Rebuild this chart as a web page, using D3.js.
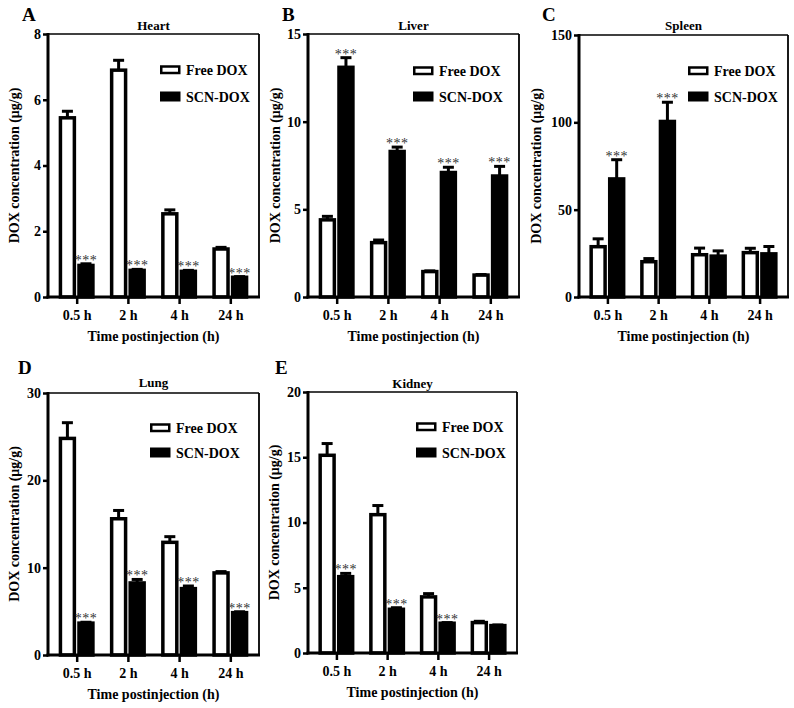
<!DOCTYPE html>
<html>
<head>
<meta charset="utf-8">
<script src="https://cdn.jsdelivr.net/npm/d3@7"></script>
<style>
  html, body { margin: 0; padding: 0; background: #fff; }
  svg { display: block; }
</style>
</head>
<body>
<svg id="chart" width="794" height="708" font-family="Liberation Serif" font-weight="bold"></svg>
<script>
// ---------------- data ----------------
const categories = ["0.5 h", "2 h", "4 h", "24 h"];
const seriesNames = ["Free DOX", "SCN-DOX"];

const heartFree = [5.45, 6.9, 2.53, 1.46];
const heartFreeErr = [0.2, 0.3, 0.12, 0.05];
const heartSCN = [0.96, 0.81, 0.78, 0.6];
const heartSCNErr = [0.05, 0.03, 0.03, 0.02];
const heartSig = [true, true, true, true];
const heartTicks = [0, 2, 4, 6, 8];

const liverFree = [4.4, 3.1, 1.45, 1.25];
const liverFreeErr = [0.2, 0.15, 0.04, 0.03];
const liverSCN = [13.1, 8.3, 7.1, 6.9];
const liverSCNErr = [0.55, 0.25, 0.3, 0.55];
const liverSig = [true, true, true, true];
const liverTicks = [0, 5, 10, 15];

const spleenFree = [28.8, 20.2, 24.2, 25.4];
const spleenFreeErr = [4.5, 1.8, 3.8, 2.5];
const spleenSCN = [67.6, 100.5, 23.4, 24.7];
const spleenSCNErr = [11, 11, 3, 4.2];
const spleenSig = [true, true, false, false];
const spleenTicks = [0, 50, 100, 150];

const lungFree = [24.8, 15.6, 12.9, 9.4];
const lungFreeErr = [1.8, 0.95, 0.65, 0.15];
const lungSCN = [3.65, 8.25, 7.6, 4.85];
const lungSCNErr = [0.1, 0.4, 0.3, 0.1];
const lungSig = [true, true, true, true];
const lungTicks = [0, 10, 20, 30];

const kidneyFree = [15.15, 10.6, 4.3, 2.33];
const kidneyFreeErr = [0.9, 0.7, 0.25, 0.1];
const kidneySCN = [5.85, 3.35, 2.28, 2.1];
const kidneySCNErr = [0.25, 0.12, 0.05, 0.05];
const kidneySig = [true, true, true, false];
const kidneyTicks = [0, 5, 10, 15, 20];

// ---------------- layout (positions/styles) ----------------
const panels = [
  { letter: "A", title: "Heart",  free: heartFree,  freeErr: heartFreeErr,  scn: heartSCN,  scnErr: heartSCNErr,  sig: heartSig,  ticks: heartTicks,
    left: 48,  right: 259, top: 34,  bottom: 297, letterX: 22,  letterY: 21,  titleY: 30,  ylabX: 14,  legX: 160, legY1: 70,  legY2: 97 },
  { letter: "B", title: "Liver",  free: liverFree,  freeErr: liverFreeErr,  scn: liverSCN,  scnErr: liverSCNErr,  sig: liverSig,  ticks: liverTicks,
    left: 308, right: 519, top: 34,  bottom: 297, letterX: 282, letterY: 21,  titleY: 30,  ylabX: 275, legX: 413, legY1: 71,  legY2: 97 },
  { letter: "C", title: "Spleen", free: spleenFree, freeErr: spleenFreeErr, scn: spleenSCN, scnErr: spleenSCNErr, sig: spleenSig, ticks: spleenTicks,
    left: 579, right: 788, top: 35,  bottom: 297, letterX: 542, letterY: 21,  titleY: 30,  ylabX: 536, legX: 688, legY1: 71,  legY2: 97 },
  { letter: "D", title: "Lung",   free: lungFree,   freeErr: lungFreeErr,   scn: lungSCN,   scnErr: lungSCNErr,   sig: lungSig,   ticks: lungTicks,
    left: 48,  right: 259, top: 393, bottom: 655, letterX: 18,  letterY: 374, titleY: 387, ylabX: 14,  legX: 150, legY1: 428, legY2: 453 },
  { letter: "E", title: "Kidney", free: kidneyFree, freeErr: kidneyFreeErr, scn: kidneySCN, scnErr: kidneySCNErr, sig: kidneySig, ticks: kidneyTicks,
    left: 308, right: 517, top: 392, bottom: 653, letterX: 275, letterY: 374, titleY: 388, ylabX: 274, legX: 416, legY1: 427, legY2: 453 }
];

const FONT = "'Liberation Serif', 'Times New Roman', Times, serif";
const svg = d3.select("#chart");
const BAR_STROKE = 3.5;

function txt(sel, size) {
  return sel.style("font-family", FONT).style("font-weight", "bold").style("font-size", size + "px").style("fill", "#000");
}

panels.forEach(p => {
  const g = svg.append("g");
  const x = d3.scalePoint().domain(categories).range([p.left, p.right]).padding(0.56);
  const inner = d3.scaleBand().domain(seriesNames).range([-18, 18]).paddingInner(0.06);
  const y = d3.scaleLinear().domain([0, d3.max(p.ticks)]).range([p.bottom, p.top]);

  const rows = [];
  categories.forEach((c, i) => {
    rows.push({ cat: c, s: seriesNames[0], v: p.free[i], e: p.freeErr[i], sig: false });
    rows.push({ cat: c, s: seriesNames[1], v: p.scn[i], e: p.scnErr[i], sig: p.sig[i] });
  });

  // frame (top + right)
  g.append("line").attr("x1", p.left).attr("x2", p.right).attr("y1", p.top).attr("y2", p.top)
    .attr("stroke", "#000").attr("stroke-width", 1.6);
  g.append("line").attr("x1", p.right).attr("x2", p.right).attr("y1", p.top).attr("y2", p.bottom)
    .attr("stroke", "#000").attr("stroke-width", 1.8);

  // error bars (upper only)
  g.selectAll(".err").data(rows).enter().append("g").each(function(d) {
    const cx = x(d.cat) + inner(d.s) + inner.bandwidth() / 2;
    const sel = d3.select(this);
    sel.append("line").attr("x1", cx).attr("x2", cx).attr("y1", y(d.v)).attr("y2", y(d.v + d.e))
      .attr("stroke", "#000").attr("stroke-width", 3);
    sel.append("line").attr("x1", cx - 5.5).attr("x2", cx + 5.5).attr("y1", y(d.v + d.e)).attr("y2", y(d.v + d.e))
      .attr("stroke", "#000").attr("stroke-width", 3);
  });

  // bars
  g.selectAll(".bar").data(rows).enter().append("rect")
    .attr("x", d => x(d.cat) + inner(d.s) + BAR_STROKE / 2)
    .attr("width", inner.bandwidth() - BAR_STROKE)
    .attr("y", d => y(d.v))
    .attr("height", d => y(0) - y(d.v))
    .attr("fill", d => d.s === seriesNames[0] ? "#fff" : "#000")
    .attr("stroke", "#000")
    .attr("stroke-width", BAR_STROKE);

  // significance stars
  g.selectAll(".sig").data(rows.filter(d => d.sig)).enter().append("text")
    .attr("x", d => x(d.cat) + inner(d.s) + inner.bandwidth() / 2)
    .attr("y", d => y(d.v + d.e) + 1)
    .attr("text-anchor", "middle")
    .style("font-family", FONT)
    .style("font-size", "14px")
    .style("font-weight", "normal")
    .style("fill", "#333")
    .style("letter-spacing", "0.5px")
    .text("***");

  // y axis
  const ya = g.append("g").attr("transform", `translate(${p.left},0)`)
    .call(d3.axisLeft(y).tickValues(p.ticks).tickSize(5).tickPadding(2).tickFormat(d3.format("d")));
  ya.select(".domain").attr("stroke-width", 3).attr("d", `M0,${p.top - 1}V${p.bottom + 1.5}`);
  ya.selectAll(".tick line").attr("stroke-width", 2.5);
  txt(ya.selectAll(".tick text"), 14);

  // x axis
  const xa = g.append("g").attr("transform", `translate(0,${p.bottom})`)
    .call(d3.axisBottom(x).tickSize(7).tickPadding(6));
  xa.select(".domain").attr("stroke-width", 3).attr("d", `M${p.left - 1.5},0H${p.right + 1}`);
  xa.selectAll(".tick line").attr("stroke-width", 2.5);
  txt(xa.selectAll(".tick text"), 14);

  // x axis title
  txt(g.append("text").attr("x", (p.left + p.right) / 2).attr("y", p.bottom + 44)
    .attr("text-anchor", "middle"), 14).text("Time postinjection (h)");

  // y axis title
  txt(g.append("text").attr("transform", `translate(${p.ylabX},${(p.top + p.bottom) / 2}) rotate(-90)`)
    .attr("text-anchor", "middle").attr("dy", "0.35em"), 14)
    .text("DOX concentration (\u03bcg/g)");

  // panel title
  txt(g.append("text").attr("x", (p.left + p.right) / 2).attr("y", p.titleY)
    .attr("text-anchor", "middle"), 13).text(p.title);

  // panel letter
  txt(g.append("text").attr("x", p.letterX).attr("y", p.letterY), 19).text(p.letter);

  // legend
  g.append("rect").attr("x", p.legX + 1.25).attr("y", p.legY1 - 3.5).attr("width", 18).attr("height", 6.5)
    .attr("fill", "#fff").attr("stroke", "#000").attr("stroke-width", 2.5);
  g.append("rect").attr("x", p.legX).attr("y", p.legY2 - 5.5).attr("width", 20.5).attr("height", 10)
    .attr("fill", "#000");
  txt(g.append("text").attr("x", p.legX + 26).attr("y", p.legY1).attr("dy", "0.35em"), 14).text(seriesNames[0]);
  txt(g.append("text").attr("x", p.legX + 26).attr("y", p.legY2).attr("dy", "0.35em"), 14).text(seriesNames[1]);
});
</script>
</body>
</html>
